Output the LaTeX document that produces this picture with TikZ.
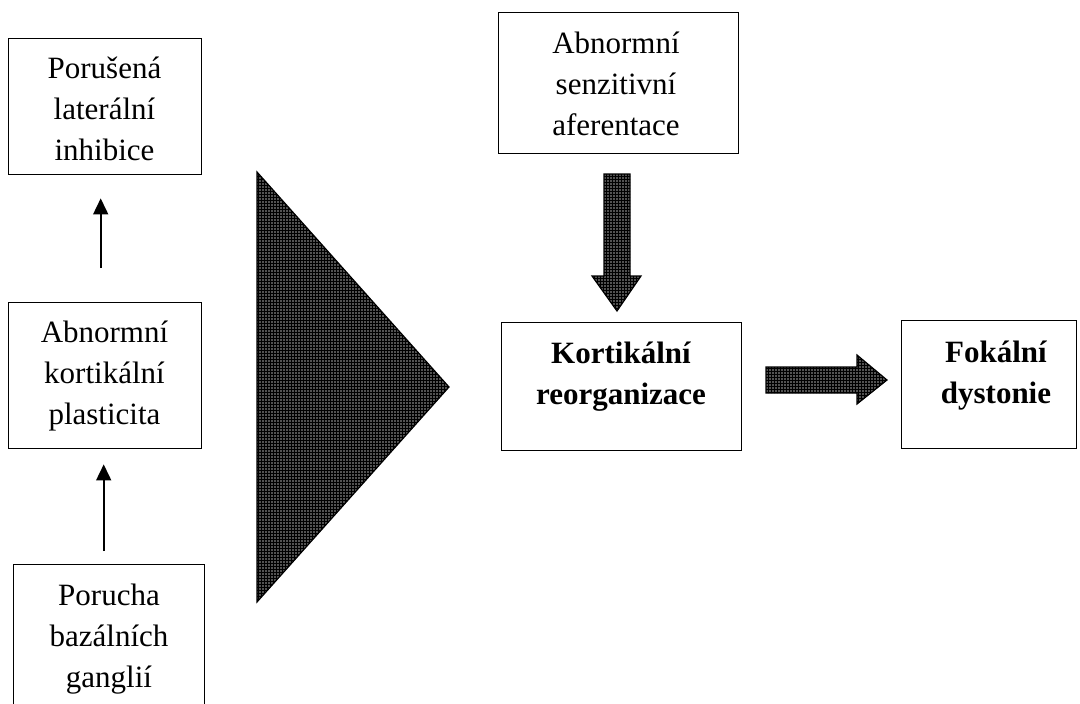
\documentclass[tikz,border=0pt]{standalone}
\usepackage{fontspec}
\setmainfont{Liberation Serif}
\usetikzlibrary{calc,patterns,arrows.meta}
\begin{document}
\begin{tikzpicture}[x=1pt,y=-1pt,
  box/.style={draw=black, line width=1.4pt, inner sep=0pt, anchor=north west},
  txt/.style={align=center, inner sep=0pt, anchor=north, font=\fontsize{31}{41}\selectfont},
  btxt/.style={align=center, inner sep=0pt, anchor=north, font=\fontsize{31}{41}\selectfont\bfseries},
  thinarrow/.style={line width=1.6pt, -{Triangle[length=16pt,width=15pt]}},
  hatched/.style={draw=black, line width=1.2pt, line join=miter, preaction={fill=black!68}, pattern=grid, pattern color=black},
]
\clip (0,0) rectangle (1080,704);
\fill[white] (0,0) rectangle (1080,704);

% boxes
\node[box, minimum width=193pt, minimum height=136pt] (b1) at (8,38) {};
\node[box, minimum width=193pt, minimum height=146pt] (b2) at (8,302) {};
\node[box, minimum width=191pt, minimum height=160pt] (b3) at (13,564) {};
\node[box, minimum width=240pt, minimum height=141pt] (b4) at (498,12) {};
\node[box, minimum width=240pt, minimum height=128pt] (b5) at (501,322) {};
\node[box, minimum width=175pt, minimum height=128pt] (b6) at (901,320) {};

% texts
\node[txt] (t1) at (104.5,48) {\rule{0pt}{30pt}Porušená\\laterální\\inhibice};
\node[txt] (t2) at (104.5,312) {\rule{0pt}{30pt}Abnormní\\kortikální\\plasticita};
\node[txt] (t3) at (109,575) {\rule{0pt}{30pt}Porucha\\bazálních\\ganglií};
\node[txt] (t4) at (616,23) {\rule{0pt}{30pt}Abnormní\\senzitivní\\aferentace};
\node[btxt] (t5) at (621,333) {\rule{0pt}{30pt}Kortikální\\reorganizace};
\node[btxt] (t6) at (996,332) {\rule{0pt}{30pt}Fokální\\dystonie};

% thin arrows
\draw[thinarrow] ($(b2.north)+(-4.5,-34)$) -- ($(b1.south)+(-4.5,23)$);
\draw[thinarrow] ($(b3.north)+(-5.5,-13)$) -- ($(b2.south)+(-1.5,15)$);

% big triangle
\coordinate (tr1) at (257,172);
\coordinate (tr2) at (449,387);
\coordinate (tr3) at (257,602);
\path[hatched] (tr1) -- (tr2) -- (tr3) -- cycle;

% down block arrow
\coordinate (d1) at (604,174);
\coordinate (d2) at (630,174);
\coordinate (d3) at (630,276);
\coordinate (d4) at (641,276);
\coordinate (d5) at (617,311);
\coordinate (d6) at (592,276);
\coordinate (d7) at (604,276);
\path[hatched] (d1) -- (d2) -- (d3) -- (d4) -- (d5) -- (d6) -- (d7) -- cycle;

% right block arrow
\coordinate (r1) at (766,367);
\coordinate (r2) at (857,367);
\coordinate (r3) at (857,355);
\coordinate (r4) at (887,380);
\coordinate (r5) at (857,404);
\coordinate (r6) at (857,393);
\coordinate (r7) at (766,393);
\path[hatched] (r1) -- (r2) -- (r3) -- (r4) -- (r5) -- (r6) -- (r7) -- cycle;
\end{tikzpicture}
\end{document}
